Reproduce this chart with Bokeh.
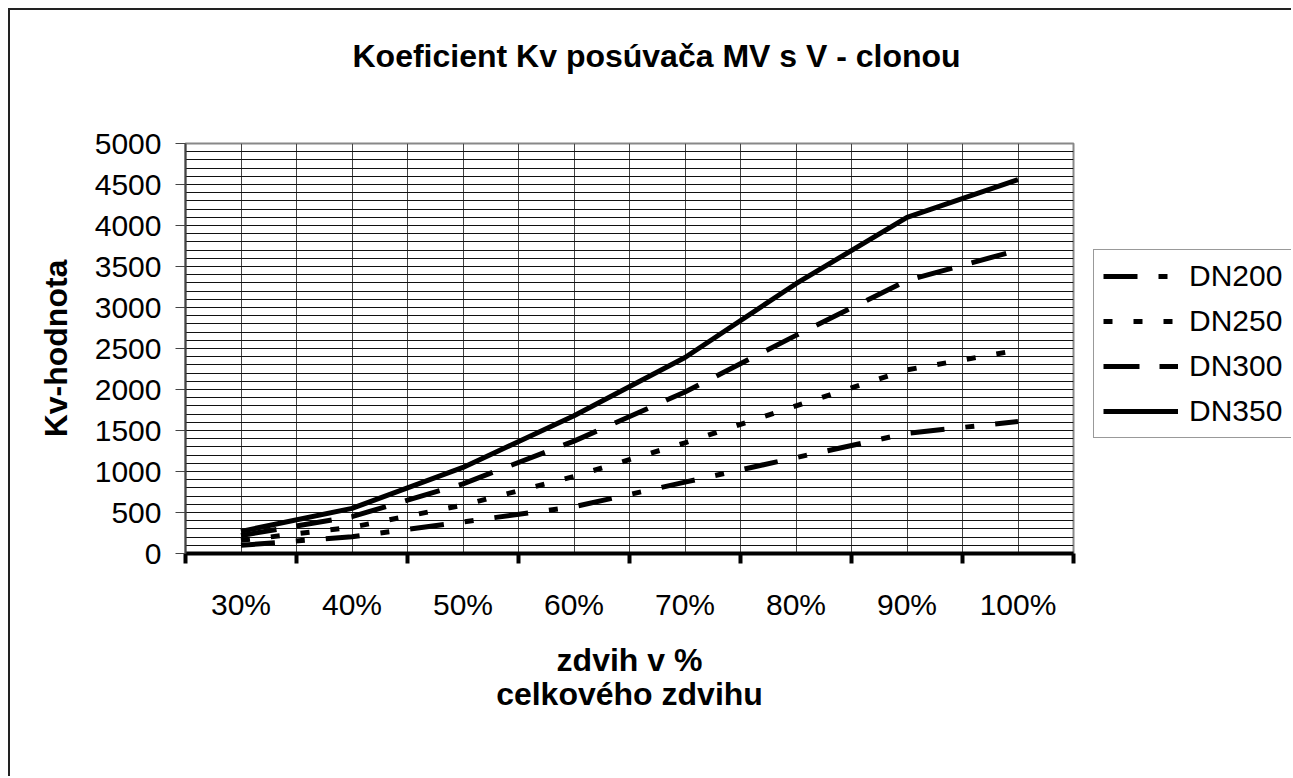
from bokeh.plotting import figure
from bokeh.layouts import row
from bokeh.models import FixedTicker, Legend, LegendItem, Range1d, Title
from bokeh.embed import file_html
from bokeh.resources import INLINE

# ---- data ----
categories = ["30%", "40%", "50%", "60%", "70%", "80%", "90%", "100%"]
dn200 = [100, 205, 385, 570, 870, 1170, 1465, 1610]
dn250 = [160, 320, 590, 940, 1350, 1800, 2240, 2480]
dn300 = [220, 450, 850, 1370, 1970, 2660, 3330, 3700]
dn350 = [270, 550, 1050, 1680, 2390, 3290, 4100, 4560]
series_names = ["DN200", "DN250", "DN300", "DN350"]
y_ticks = list(range(0, 5001, 500))
y_grid = list(range(0, 5001, 100))

FONT = "Liberation Sans"
xs = list(range(len(categories)))
series = [dn200, dn250, dn300, dn350]

p = figure(width=1073, height=766, output_backend="svg", toolbar_location=None,
           x_range=Range1d(-0.5, len(categories) - 0.5), y_range=Range1d(0, 5000),
           min_border_left=175, min_border_top=133, min_border_bottom=223, min_border_right=10)

# spacer panel between frame and title
p.add_layout(Title(text=" ", text_font_size="10px", standoff=52), "above")

p.title.text = "Koeficient Kv posúvača MV s V - clonou"
p.title.text_font = FONT
p.title.text_font_size = "32px"
p.title.text_font_style = "bold"
p.title.align = "left"
p.title.offset = 167
p.title.standoff = 10
p.title.text_color = "black"

p.outline_line_color = "#888888"
p.outline_line_width = 2

# x axis
p.xaxis.ticker = FixedTicker(ticks=xs, minor_ticks=[i - 0.5 for i in range(len(categories) + 1)])
p.xaxis.major_label_overrides = {i: c for i, c in enumerate(categories)}
p.xaxis.major_tick_out = 0
p.xaxis.major_tick_in = 0
p.xaxis.minor_tick_out = 10
p.xaxis.minor_tick_in = 0
p.xaxis.minor_tick_line_width = 4
p.xaxis.minor_tick_line_color = "black"
p.xaxis.axis_line_width = 4
p.xaxis.axis_line_color = "black"
p.xaxis.major_label_text_font = FONT
p.xaxis.major_label_text_font_size = "30px"
p.xaxis.major_label_text_color = "black"
p.xaxis.major_label_standoff = 24
p.xaxis.axis_label = "zdvih v %\ncelkového zdvihu"
p.xaxis.axis_label_text_font = FONT
p.xaxis.axis_label_text_font_size = "32px"
p.xaxis.axis_label_text_font_style = "bold"
p.xaxis.axis_label_text_color = "black"
p.xaxis.axis_label_text_line_height = 0.95
p.xaxis.axis_label_standoff = 18

# y axis
p.yaxis.ticker = FixedTicker(ticks=y_ticks)
p.yaxis.major_tick_out = 10
p.yaxis.major_tick_in = 0
p.yaxis.minor_tick_out = 0
p.yaxis.major_tick_line_color = "#444444"
p.yaxis.axis_line_color = "#444444"
p.yaxis.axis_line_width = 2
p.yaxis.major_label_text_font = FONT
p.yaxis.major_label_text_font_size = "30px"
p.yaxis.major_label_text_color = "black"
p.yaxis.major_label_standoff = 14
p.yaxis.axis_label = "Kv-hodnota"
p.yaxis.axis_label_text_font = FONT
p.yaxis.axis_label_text_font_size = "32px"
p.yaxis.axis_label_text_font_style = "bold"
p.yaxis.axis_label_text_color = "black"
p.yaxis.axis_label_standoff = 18

# grids
p.xgrid.ticker = FixedTicker(ticks=[i * 0.5 - 0.5 for i in range(2 * len(categories) + 1)])
p.xgrid.grid_line_color = "#444444"
p.xgrid.grid_line_width = 1
p.ygrid.ticker = FixedTicker(ticks=y_grid)
p.ygrid.grid_line_color = "#111111"
p.ygrid.grid_line_width = 1

styles = [
    dict(line_dash="34 21 9 21"),
    dict(line_dash="9 21"),
    dict(line_dash="36 20"),
    dict(line_dash="solid"),
]
for name, vals, st in zip(series_names, series, styles):
    p.line(xs, vals, line_color="black", line_width=5, **st)

# legend panel: a narrow figure whose (off-range) copies of the series supply the legend samples
q = figure(width=208, height=766, output_backend="svg", toolbar_location=None,
           x_axis_type=None, y_axis_type=None,
           x_range=Range1d(100, 101), y_range=Range1d(0, 5000),
           min_border=0)
q.outline_line_color = None
q.grid.visible = False
items = []
for name, vals, st in zip(series_names, series, styles):
    r = q.line(xs, vals, line_color="black", line_width=5, **st)
    items.append(LegendItem(label=name, renderers=[r]))

legend = Legend(items=items, location=(10, 115))
legend.label_text_font = FONT
legend.label_text_font_size = "30px"
legend.label_text_color = "black"
legend.glyph_width = 75
legend.glyph_height = 34
legend.label_height = 34
legend.spacing = 11
legend.label_standoff = 11
legend.padding = 9
legend.margin = 0
legend.border_line_color = "#333333"
legend.border_line_width = 1.5
legend.background_fill_color = "white"
legend.background_fill_alpha = 1
q.add_layout(legend)

layout = row(p, q, spacing=0,
             styles={"margin-left": "8px", "margin-top": "8px",
                     "border-top": "2px solid #222", "border-left": "2px solid #222"})

open("out.html", "w").write(file_html(layout, INLINE))
